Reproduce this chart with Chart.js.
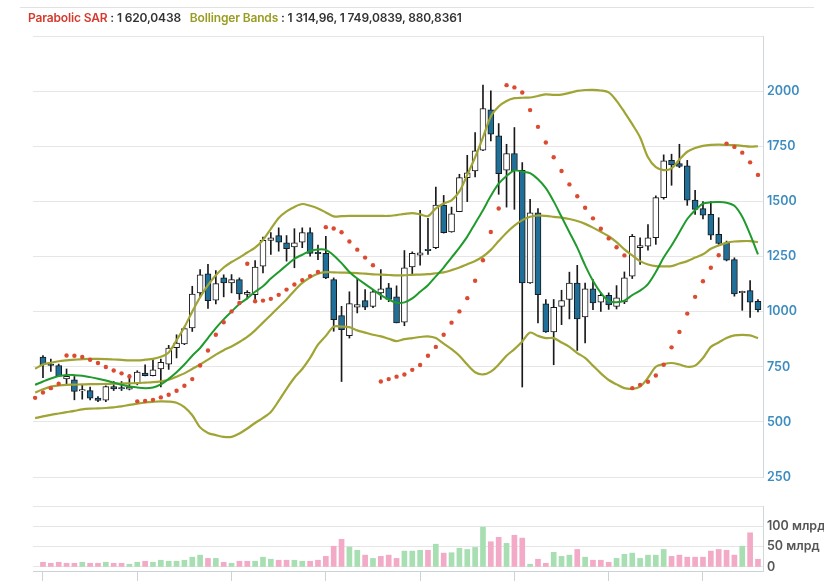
<!DOCTYPE html>
<html>
<head>
<meta charset="utf-8">
<script src="https://cdn.jsdelivr.net/npm/chart.js@4.4.0/dist/chart.umd.min.js"></script>
<style>
  html, body { margin: 0; padding: 0; background: #fff; overflow: hidden; }
  #wrap { position: relative; width: 824px; height: 583px; }
  #chart { position: absolute; left: 0; top: 0; }
  #sep { position: absolute; left: 20px; width: 794px; top: 7px; height: 1px; background: #e2e2e2; }
  #info { position: absolute; left: 28px; top: 10px; line-height: 18px; font: 600 12px Inter, "Noto Sans", sans-serif; color: #333; white-space: nowrap; letter-spacing: -0.15px; }
  #info .sar { color: #d63a2c; }
  #info .bb { color: #9a9c22; margin-left: 6px; }
</style>
</head>
<body>
<div id="wrap">
  <canvas id="chart" width="824" height="583"></canvas>
  <div id="sep"></div>
  <div id="info"><span class="sar">Parabolic SAR</span> : 1 620,0438 <span class="bb">Bollinger Bands</span> : 1 314,96, 1 749,0839, 880,8361</div>
</div>
<script>
// candles (index 0..91)
var opens  = [794,762,755,695,691,640,642,608,598,660,655,648,673,721,710,740,762,837,853,926,
              1085,1171,1052,1153,1130,1145,1078,1077,1206,1323,1345,1312,1294,1315,1358,1269,1264,1145,982,891,
              1020,1050,1024,1085,1108,1067,952,1203,1256,1283,1290,1483,1362,1453,1608,1638,1732,1915,1797,1641,
              1717,1641,1130,1448,1035,908,1024,1055,1130,976,1103,1043,1074,1024,1044,1161,1290,1297,1335,1517,
              1686,1671,1661,1506,1467,1441,1350,1312,1236,1086,1095,1047];
var highs  = [801,785,762,740,706,668,658,615,663,683,683,714,732,759,785,785,847,895,930,1115,
              1191,1214,1186,1167,1168,1153,1095,1232,1338,1358,1380,1345,1376,1380,1380,1302,1342,1153,1024,1090,
              1150,1100,1100,1191,1128,1117,1277,1271,1459,1423,1565,1527,1474,1623,1709,1812,2027,2001,1853,1759,
              1835,1676,1509,1467,1055,1055,1097,1179,1210,1130,1145,1085,1085,1118,1180,1350,1335,1395,1525,1711,
              1714,1759,1686,1550,1499,1499,1426,1320,1244,1093,1141,1055];
var lows   = [701,729,705,668,600,603,600,592,592,642,642,645,668,708,708,658,738,790,850,910,
              1067,1014,1035,1067,1085,1055,1058,1055,1176,1259,1274,1229,1199,1290,1252,1236,1150,911,683,880,
              994,1009,1018,1055,1045,949,936,1168,1211,1259,1285,1356,1360,1453,1499,1611,1730,1774,1532,1474,
              1464,658,1128,949,906,759,941,967,824,858,1009,1001,1010,1012,1036,1150,1214,1279,1305,1510,
              1573,1653,1482,1441,1420,1327,1305,1230,1070,1006,974,999];
var closes = [759,756,707,706,638,646,608,597,660,650,649,658,726,710,736,770,835,857,923,1080,
              1167,1050,1127,1130,1145,1080,1088,1202,1323,1335,1315,1285,1312,1358,1264,1263,1153,964,918,1036,
              1032,1020,1090,1103,1055,949,1199,1264,1267,1277,1483,1358,1444,1608,1630,1729,1921,1805,1626,1717,
              1638,1130,1448,1077,908,1020,1050,1130,967,1103,1040,1074,1030,1062,1153,1342,1300,1335,1517,1684,
              1665,1659,1506,1464,1438,1347,1309,1233,1080,1092,1043,1009];

// volume, billions, and its colour (1 = green, 0 = pink)
var volumes = [11.5,9,11.5,9,9,11.5,9,9,11.5,9,9,6.6,11.5,14,11.5,16.5,14,14,16.5,24,
               29,21,21,11.5,9,14,14,14,24,19,16.5,16.5,16.5,14,14,16.5,26,51,68,49,
               41,29,21,26,29,21,39,39,41,41,56,34,35,46,43,48,98,62,73,58,
               78,71,6.6,19,9,36,26,29,43,24,16.5,16.5,11.5,21,31,34,21,29,29,43,
               26,29,24,24,24,39,43,41,29,51,84,19];
var volUp = [0,0,0,0,0,1,0,0,1,0,0,1,1,0,1,1,1,1,1,1,
             1,0,1,0,1,0,0,1,1,1,0,0,1,1,0,0,0,0,0,1,
             1,0,1,0,0,0,1,1,1,0,1,0,1,1,1,1,1,0,0,1,
             0,0,1,0,0,1,1,1,0,1,0,0,0,1,1,1,1,1,1,1,
             0,0,0,0,0,0,0,0,0,1,0,0];

// indicator lines, index -1..91
var bbUpper = [741,760,768,775,779,782,785,786,786,785,783,781,779,779,782,786,795,815,870,930,
               1000,1065,1120,1165,1200,1225,1245,1268,1290,1325,1375,1425,1455,1475,1488,1480,1468,1450,1432,1433,
               1434,1434,1434,1434,1434,1434,1438,1443,1447,1441,1433,1468,1490,1505,1545,1620,1700,1790,1885,1930,
               1955,1968,1970,1971,1978,1985,1983,1984,1992,2001,2005,2006,2003,1994,1956,1905,1850,1790,1700,1655,
               1642,1650,1690,1725,1742,1752,1756,1757,1756,1755,1752,1748,1750];
var bbMiddle = [633,648,660,665,668,669,670,671,671,672,673,674,675,676,678,680,684,691,705,720,
                740,760,782,805,825,842,862,885,915,950,985,1020,1055,1095,1130,1155,1172,1179,1178,1177,
                1176,1175,1172,1169,1168,1166,1164,1165,1167,1168,1170,1174,1178,1188,1200,1215,1230,1250,1280,1320,
                1358,1390,1415,1430,1436,1434,1430,1426,1420,1411,1398,1381,1362,1342,1315,1282,1255,1229,1214,1206,
                1205,1206,1218,1229,1245,1260,1285,1300,1312,1318,1320,1320,1315];
var bbLower = [517,525,532,538,544,550,557,560,561,563,566,570,577,583,588,591,593,592,587,567,
               530,475,450,440,432,432,447,470,495,518,545,595,650,700,740,790,850,890,932,932,
               930,915,905,895,888,877,866,875,880,885,888,880,855,830,800,760,725,715,728,760,
               800,830,865,905,890,880,880,860,840,812,790,755,720,690,670,653,650,660,700,750,
               762,767,760,750,755,790,840,860,880,892,895,892,880];
var maLine = [668,683,697,708,713,712,709,703,696,688,678,668,660,656,653,656,670,695,725,760,
              800,835,880,925,965,1000,1035,1060,1090,1115,1150,1180,1210,1240,1258,1275,1282,1280,1255,1220,
              1180,1150,1125,1100,1075,1055,1040,1042,1060,1090,1120,1160,1200,1245,1290,1340,1400,1460,1525,1580,
              1615,1640,1635,1628,1600,1560,1500,1430,1360,1290,1210,1140,1085,1048,1043,1050,1075,1095,1125,1180,
              1245,1300,1360,1420,1460,1490,1496,1497,1494,1480,1430,1350,1260];
var sar = [609,633,653,673,801,800,794,782,767,749,733,720,706,593,595,600,611,623,641,664,
           694,756,824,895,952,1001,1039,1217,1047,1050,1058,1076,1100,1123,1143,1161,1180,1383,1377,1360,
           1318,1281,1245,1210,683,694,705,715,736,758,800,840,895,950,1001,1061,1140,1233,1361,1468,
           2027,2017,1994,1914,1838,1767,1700,1638,1577,1523,1471,1423,1376,1332,1292,1255,653,668,682,710,
           759,838,908,991,1067,1138,1199,1256,1762,1747,1721,1677,1620];

var xTicks = [0, 12, 24, 36, 48, 60, 72, 84];
var priceTicks = [250, 500, 750, 1000, 1250, 1500, 1750, 2000, 2250];
var volTicks = [0, 50, 100, 150];

var tickFont = { family: 'Inter', weight: '600', size: 12.5 };

function lineSet(values, color, width, order) {
    return {
        type: 'line',
        data: values.map(function (v, k) { return { x: k - 1, y: v }; }),
        borderColor: color,
        borderWidth: width,
        pointRadius: 0,
        tension: 0.3,
        fill: false,
        order: order
    };
}

var ctx = document.getElementById('chart');
var chart = new Chart(ctx, {
    type: 'bar',
    data: {
        datasets: [
            {
                type: 'line',
                data: sar.map(function (v, k) { return { x: k - 1, y: v }; }),
                showLine: false,
                pointRadius: 2.2,
                pointBackgroundColor: '#dc4a31',
                pointBorderWidth: 0,
                order: 1
            },
            lineSet(maLine, '#1f9a2d', 2, 2),
            lineSet(bbUpper, '#a0a434', 2.2, 3),
            lineSet(bbMiddle, '#a0a434', 2.2, 3),
            lineSet(bbLower, '#a0a434', 2.2, 3),
            {
                data: opens.map(function (o, i) { return { x: i, y: [o, closes[i]] }; }),
                backgroundColor: opens.map(function (o, i) { return closes[i] >= o ? '#ffffff' : '#1f6f99'; }),
                borderColor: '#1a1a1a',
                borderWidth: 1,
                borderSkipped: false,
                barThickness: 6,
                grouped: false,
                order: 4
            },
            {
                data: lows.map(function (l, i) { return { x: i, y: [l, highs[i]] }; }),
                backgroundColor: '#1a1a1a',
                barThickness: 1,
                grouped: false,
                order: 5
            },
            {
                yAxisID: 'yv',
                data: volumes.map(function (v, i) { return { x: i, y: v }; }),
                backgroundColor: volUp.map(function (u) { return u ? '#a7dfb3' : '#f2aac6'; }),
                barThickness: 5,
                grouped: false,
                order: 6
            }
        ]
    },
    options: {
        responsive: false,
        animation: false,
        layout: { padding: { left: 33, top: 36, right: 0, bottom: 0 } },
        plugins: { legend: { display: false }, tooltip: { enabled: false } },
        scales: {
            x: {
                type: 'linear',
                offset: false,
                min: -1.27,
                max: 91.64,
                grid: { offset: false, drawOnChartArea: false, drawTicks: true, tickLength: 10, color: '#cbd2d8' },
                border: { color: '#cbd2d8' },
                ticks: { display: false },
                afterBuildTicks: function (ax) { ax.ticks = xTicks.map(function (v) { return { value: v }; }); },
                afterFit: function (ax) { ax.height = 12; }
            },
            y: {
                position: 'right',
                stack: 'p',
                stackWeight: 441,
                min: 250,
                max: 2250,
                afterBuildTicks: function (ax) { ax.ticks = priceTicks.map(function (v) { return { value: v }; }); },
                ticks: {
                    autoSkip: false,
                    color: '#3d8cc0',
                    font: tickFont,
                    padding: 4,
                    callback: function (v) { return v === 2250 ? '' : String(v); }
                },
                grid: { color: '#e6e6e6', drawTicks: false },
                border: { color: '#cfd6dc' },
                afterFit: function (ax) { ax.width = 61; }
            },
            yg: {
                position: 'right',
                stack: 'p',
                stackWeight: 29,
                display: false
            },
            yv: {
                position: 'right',
                stack: 'p',
                stackWeight: 65,
                min: -10,
                max: 150,
                afterBuildTicks: function (ax) { ax.ticks = volTicks.map(function (v) { return { value: v }; }); },
                ticks: {
                    autoSkip: false,
                    color: '#555555',
                    font: tickFont,
                    padding: 4,
                    callback: function (v) { return v === 0 ? '0' : (v === 150 ? '' : v + ' млрд'); }
                },
                grid: { color: '#e6e6e6', drawTicks: false },
                border: { color: '#cfd6dc' },
                afterFit: function (ax) { ax.width = 61; }
            }
        }
    }
});
</script>
</body>
</html>
